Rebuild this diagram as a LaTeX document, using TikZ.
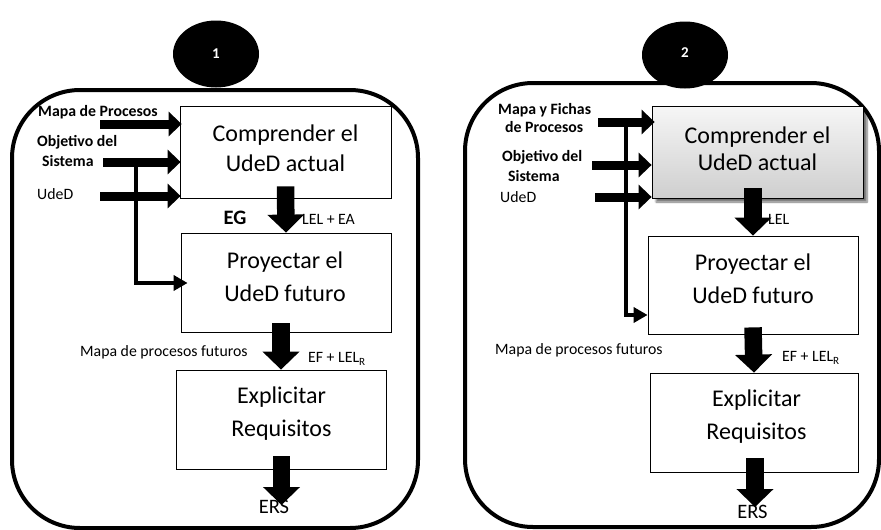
\documentclass[tikz,border=0pt]{standalone}
\usepackage{fontspec}
\setmainfont{Carlito}
\usetikzlibrary{arrows.meta,shadows.blur,calc,shapes.geometric}

\begin{document}
\begin{tikzpicture}[x=1pt,y=-1pt,
  frame/.style={line width=4pt, rounded corners=68pt},
  badge/.style={ellipse, fill=black, text=white, inner sep=0pt,
    minimum width=86pt, minimum height=67pt,
    font=\bfseries\fontsize{15}{17}\selectfont},
  stage/.style={draw, line width=0.8pt, inner sep=0pt},
  stagetext/.style={align=center, inner sep=0pt},
  lab/.style={anchor=west, inner sep=0pt, font=\fontsize{15.8}{18}\selectfont},
  blab/.style={anchor=west, inner sep=0pt, font=\bfseries\fontsize{15.8}{18}\selectfont},
  biglab/.style={inner sep=0pt, font=\fontsize{20.5}{22}\selectfont},
  fatdown/.style={line width=17.5pt, -{Triangle[width=36pt,length=18pt]}},
  inarrow/.style={line width=9pt, -{Triangle[width=24pt,length=13pt]}},
  lconn/.style={line width=4pt, -{Triangle[width=15pt,length=14pt]}},
  graybox/.style={stage, top color=gray!7, bottom color=gray!38,
    blur shadow={shadow xshift=4pt, shadow yshift=-4pt, shadow blur steps=6, shadow opacity=55}}
]
\useasboundingbox (0,0) rectangle (881,530);

% ---------------- Process 1 ----------------
\draw[frame] (12,90) rectangle (418,528);
\node[badge] (n1) at (216,54) {\raisebox{-3pt}{1}};

\node[stage, minimum width=211pt, minimum height=92pt] (c1) at (285.5,152) {};
\node[stage, minimum width=210pt, minimum height=99pt] (p1) at (286,282.5) {};
\node[stage, minimum width=210pt, minimum height=99pt] (e1) at (281,419.5) {};
\node[stagetext, font=\fontsize{24}{30}\selectfont] (c1t) at (285.5,148) {Comprender el\\UdeD actual};
\node[stagetext, font=\fontsize{24}{33}\selectfont] (p1t) at (285,276.5) {Proyectar el\\UdeD futuro};
\node[stagetext, font=\fontsize{24}{33}\selectfont] (e1t) at (281.5,413.5) {Explicitar\\Requisitos};

\node[blab] (m1) at (38,112) {Mapa de Procesos};
\node[blab] (o1) at (37,142) {Objetivo del};
\node[blab] (s1) at (42,161) {Sistema};
\node[lab]  (u1) at (37,194) {UdeD};

\coordinate (a1) at (100,124);
\coordinate (a2) at (103,162);
\coordinate (a3) at (100,196);
\draw[inarrow] (a1) -- ($(c1.west |- a1)+(2,0)$);
\draw[inarrow] (a2) -- ($(c1.west |- a2)+(1,0)$);
\draw[inarrow] (a3) -- ($(c1.west |- a3)+(1,0)$);

\coordinate (j1) at (136,162);
\coordinate (k1) at (0,283);
\draw[lconn] (j1) |- ($(p1.west |- k1)+(7,0)$);

\draw[fatdown] ($(c1.south)+(0,-12)$) -- (p1.north);
\node[biglab, font=\bfseries\fontsize{20.5}{22}\selectfont] (eg1) at (235,218) {EG};
\node[lab] (lea1) at (302,219) {LEL + EA};

\draw[fatdown] ($(p1.south)+(-5,-9)$) -- ($(e1.north)+(0,0)$);
\node[lab] (mf1) at (80,352) {Mapa de procesos futuros};
\node[lab] (ef1) at (308,359) {EF + LEL\textsubscript{R}};

\coordinate (r1) at (281.5,505);
\draw[fatdown] ($(e1.south)+(0.5,-13)$) -- (r1);
\node[biglab] (ers1) at (274,507) {ERS};

% ---------------- Process 2 ----------------
\draw[frame] (465,83) rectangle (879,527);
\node[badge] (n2) at (685,55) {\raisebox{5pt}{2}};

\node[graybox, minimum width=211pt, minimum height=92pt] (c2) at (757.5,152) {};
\node[stage, minimum width=210pt, minimum height=98pt] (p2) at (753,285) {};
\node[stage, minimum width=208pt, minimum height=99pt] (e2) at (754,422.5) {};
\node[stagetext, font=\fontsize{24}{27}\selectfont] (c2t) at (757.5,148.5) {Comprender el\\UdeD actual};
\node[stagetext, font=\fontsize{24}{33}\selectfont] (p2t) at (753,278.5) {Proyectar el\\UdeD futuro};
\node[stagetext, font=\fontsize{24}{33}\selectfont] (e2t) at (756.5,416.5) {Explicitar\\Requisitos};

\node[blab] (m2) at (498,110) {Mapa y Fichas};
\node[blab] (m2b) at (505,127) {de Procesos};
\node[blab] (o2) at (502,157) {Objetivo del};
\node[blab] (s2) at (508,176) {Sistema};
\node[lab]  (u2) at (500,197) {UdeD};

\coordinate (b1) at (598,122);
\coordinate (b2) at (592,165);
\coordinate (b3) at (595,197);
\draw[inarrow] (b1) -- ($(c2.west |- b1)+(3,0)$);
\draw[inarrow] (b2) -- (c2.west |- b2);
\draw[inarrow] (b3) -- (c2.west |- b3);

\coordinate (j2) at (626,122);
\coordinate (k2) at (0,315);
\draw[lconn] (j2) |- (p2.west |- k2);

\draw[fatdown] ($(p2.north |- c2.south)+(0,-10)$) -- (p2.north);
\node[lab] (le2) at (768,219) {LEL};

\draw[fatdown] ($(p2.south)+(0,-7)$) -- (e2.north);
\node[lab] (mf2) at (495,350) {Mapa de procesos futuros};
\node[lab] (ef2) at (782,358) {EF + LEL\textsubscript{R}};

\coordinate (r2) at (755,507);
\draw[fatdown] ($(e2.south)+(1,-14)$) -- (r2);
\node[biglab] (ers2) at (752.5,512) {ERS};
\end{tikzpicture}
\end{document}
